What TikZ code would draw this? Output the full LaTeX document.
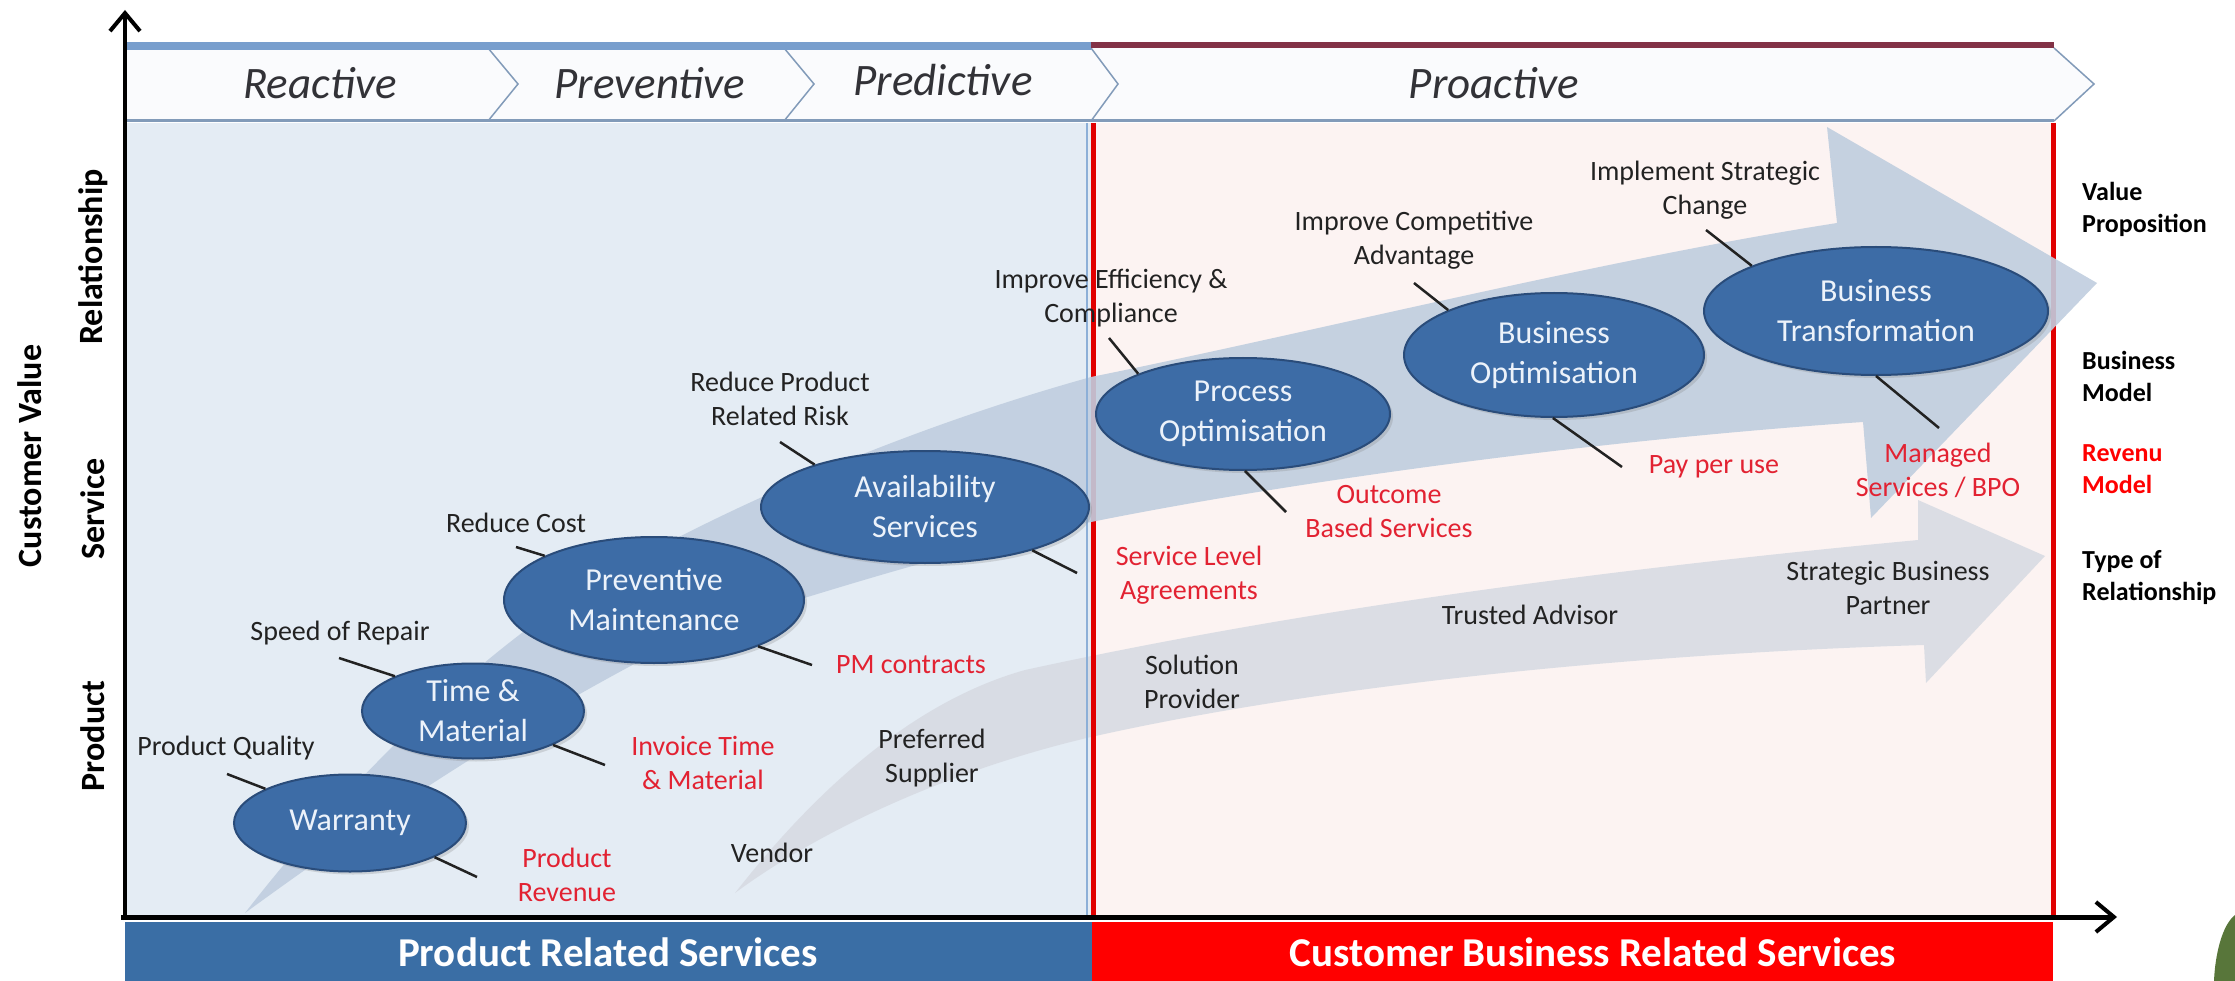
\documentclass[tikz,border=0pt]{standalone}
\usepackage{fontspec}
\setmainfont{Carlito}
\usetikzlibrary{arrows.meta,shapes.geometric,shadows}

\definecolor{panelblue}{RGB}{228,236,244}
\definecolor{panelpink}{RGB}{252,243,242}
\definecolor{bandblue}{RGB}{192,206,223}
\definecolor{bandgray}{RGB}{214,218,226}
\definecolor{ellfill}{RGB}{61,108,166}
\definecolor{elldraw}{RGB}{42,76,122}
\definecolor{elltext}{RGB}{236,242,250}
\definecolor{lblred}{RGB}{226,34,50}
\definecolor{lbldark}{RGB}{34,34,34}
\definecolor{barblue}{RGB}{58,110,165}
\definecolor{barred}{RGB}{255,0,0}
\definecolor{divred}{RGB}{225,0,0}
\definecolor{topmaroon}{RGB}{130,50,70}
\definecolor{bannerblue}{RGB}{120,158,205}
\definecolor{bannerfill}{RGB}{250,251,253}
\definecolor{chev}{RGB}{130,155,185}
\definecolor{thinblue}{RGB}{140,175,215}
\definecolor{phasegray}{RGB}{50,50,55}
\definecolor{leaf}{RGB}{88,118,58}

\begin{document}
\begin{tikzpicture}[x=1pt,y=-1pt,
  stage/.style={ellipse, fill=ellfill, draw=elldraw, line width=2pt, text=elltext,
    inner sep=0pt, align=center, font=\fontsize{32}{40}\selectfont,
    drop shadow={opacity=0.25, shadow xshift=3pt, shadow yshift=-3pt}},
  lbl/.style={text=lbldark, align=center, inner sep=0pt, font=\fontsize{28}{34}\selectfont},
  rlbl/.style={lbl, text=lblred},
  link/.style={draw=lbldark, line width=2.5pt},
  side/.style={align=left, anchor=west, inner sep=0pt, font=\fontsize{26}{32}\selectfont\bfseries},
  phase/.style={inner sep=0pt, text=phasegray, font=\fontsize{45}{50}\selectfont\itshape},
  vlabel/.style={rotate=90, inner sep=0pt, text=black, font=\fontsize{34}{40}\selectfont\bfseries},
  barlbl/.style={text=white, inner sep=0pt, font=\fontsize{41}{48}\selectfont\bfseries},
  axisline/.style={line width=4pt, -{Straight Barb[length=18pt,width=30pt,line width=4pt]}},
  chevline/.style={draw=chev, line width=1.5pt},
]
\useasboundingbox (0,0) rectangle (2235,981);
\fill[white] (0,0) rectangle (2235,981);

% panels
\fill[panelblue] (125,123) rectangle (1091,917);
\fill[panelpink] (1091,123) rectangle (2053,917);

% banner
\fill[bannerfill] (125,48) -- (2054,48) -- (2094,84) -- (2054,121) -- (125,121) -- cycle;
\draw[chevline] (488,48) -- (518,84) -- (488,121);
\draw[chevline] (784,48) -- (814,84) -- (784,121);
\draw[chevline] (1091,48) -- (1118,84) -- (1091,121);
\draw[chevline] (2054,48) -- (2094,84) -- (2054,121);
\draw[draw=chev, line width=3pt] (125,121) -- (2054,121);
\fill[bannerblue] (125,42) rectangle (1091,50);
\fill[topmaroon] (1091,42) rectangle (2054,48);

\node[phase] (reactive) at (320,83) {Reactive};
\node[phase] (preventive) at (650,83) {Preventive};
\node[phase] (predictive) at (943,80) {Predictive};
\node[phase] (proactive) at (1494,83) {Proactive};

% second (relationship) arrow
\fill[bandgray, opacity=0.85]
  (735,893) .. controls (800,810) and (900,705) .. (1025,670)
  .. controls (1300,610) and (1600,570) .. (1918,540)
  -- (1918,500) -- (2045,556) -- (1926,683) -- (1924,645)
  .. controls (1600,655) and (1300,690) .. (1091,737)
  .. controls (950,770) and (820,830) .. (735,893) -- cycle;

% red dividers
\draw[divred, line width=5pt] (1093,123) -- (1093,917);
\draw[divred, line width=5pt] (2053,123) -- (2053,917);

% main arrow
\fill[bandblue, opacity=0.9]
  (245,913) .. controls (340,790) and (480,650) .. (600,580)
  .. controls (720,510) and (900,430) .. (1091,377)
  .. controls (1300,335) and (1600,260) .. (1837,223)
  -- (1827,127) -- (2097,283) -- (1871,518) -- (1863,422)
  .. controls (1600,440) and (1300,480) .. (1091,522)
  .. controls (950,550) and (800,600) .. (700,630)
  .. controls (540,710) and (400,800) .. (245,913) -- cycle;

\draw[thinblue, line width=2pt] (1087,123) -- (1087,917);

% axes
\coordinate (origin) at (125,920);
\coordinate (ytip) at (125,10);
\coordinate (xstart) at (121,917);
\coordinate (xtip) at (2117,917);
\draw[axisline] (origin) -- (ytip);
\draw[axisline, line width=5pt] (xstart) -- (xtip);

% bottom bars
\fill[barblue] (125,922) rectangle (1092,981);
\fill[barred] (1092,922) rectangle (2053,981);
\node[barlbl] (prs) at (608,952) {Product Related Services};
\node[barlbl] (cbrs) at (1593,952) {Customer Business Related Services};

% vertical labels
\node[vlabel] (cv) at (30,456) {Customer Value};
\node[vlabel] (rel) at (93,257) {Relationship};
\node[vlabel] (svc) at (93,509) {Service};
\node[vlabel] (prd) at (93,736) {Product};

% right labels
\node[side] (vp) at (2082,209) {Value\\Proposition};
\node[side] (bm) at (2082,376) {Business\\Model};
\node[side, text=red] (rm) at (2082,469) {Revenu\\Model};
\node[side] (tr) at (2082,578) {Type of\\Relationship};

% stages
\node[stage, minimum width=232pt, minimum height=97pt] (warranty) at (350,823) {Warranty};
\node[stage, minimum width=222pt, minimum height=95pt] (tm) at (473,711) {Time \&\\Material};
\node[stage, minimum width=300pt, minimum height=126pt] (pm) at (654,600) {Preventive\\Maintenance};
\node[stage, minimum width=328pt, minimum height=112pt] (avail) at (925,507) {Availability\\Services};
\node[stage, minimum width=294pt, minimum height=112pt] (proc) at (1243,414) {Process\\Optimisation};
\node[stage, minimum width=300pt, minimum height=124pt] (busopt) at (1554,355) {Business\\Optimisation};
\node[stage, minimum width=344pt, minimum height=128pt] (bustr) at (1876,311) {Business\\Transformation};

% value labels
\node[lbl] (pq) at (226,748) {Product Quality};
\node[lbl] (sor) at (340,633) {Speed of Repair};
\node[lbl] (rc) at (516,523) {Reduce Cost};
\node[lbl] (rpr) at (780,399) {Reduce Product\\Related Risk};
\node[lbl] (iec) at (1111,298) {Improve Efficiency \&\\Compliance};
\node[lbl] (ica) at (1414,240) {Improve Competitive\\Advantage};
\node[lbl] (isc) at (1705,190) {Implement Strategic\\Change};

% revenue labels
\node[rlbl] (prev) at (567,875) {Product\\Revenue};
\node[rlbl] (itm) at (703,763) {Invoice Time\\\& Material};
\node[rlbl] (pmc) at (911,665) {PM contracts};
\node[rlbl] (sla) at (1189,575) {Service Level\\Agreements};
\node[rlbl] (obs) at (1389,512) {Outcome\\Based Services};
\node[rlbl] (ppu) at (1714,467) {Pay per use};
\node[rlbl] (msb) at (1938,470) {Managed\\Services / BPO};

% relationship labels
\node[lbl] (vendor) at (772,853) {Vendor};
\node[lbl] (ps) at (932,758) {Preferred\\Supplier};
\node[lbl] (sp) at (1192,682) {Solution\\Provider};
\node[lbl] (ta) at (1530,615) {Trusted Advisor};
\node[lbl] (sbp) at (1888,588) {Strategic Business\\Partner};

% connectors
\coordinate (pqA) at (227,774);
\coordinate (prA) at (477,877);
\coordinate (sorA) at (339,658);
\coordinate (itmA) at (605,765);
\coordinate (rcA) at (516,547);
\coordinate (pmcA) at (812,665);
\coordinate (rprA) at (780,442);
\coordinate (slaA) at (1077,573);
\coordinate (iecA) at (1109,338);
\coordinate (obsA) at (1286,512);
\coordinate (icaA) at (1414,283);
\coordinate (ppuA) at (1622,467);
\coordinate (iscA) at (1706,230);
\coordinate (msbA) at (1939,428);
\draw[link] (pqA) -- (warranty.158);
\draw[link] (warranty.338) -- (prA);
\draw[link] (sorA) -- (tm.156);
\draw[link] (tm.337) -- (itmA);
\draw[link] (rcA) -- (pm.158);
\draw[link] (pm.336) -- (pmcA);
\draw[link] (rprA) -- (avail.159);
\draw[link] (avail.338) -- (slaA);
\draw[link] (iecA) -- (proc.159);
\draw[link] (proc.272) -- (obsA);
\draw[link] (icaA) -- (busopt.157);
\draw[link] (busopt.269) -- (ppuA);
\draw[link] (iscA) -- (bustr.160);
\draw[link] (bustr.270) -- (msbA);

% corner leaf
\fill[leaf] (2235,915) .. controls (2222,925) and (2215,955) .. (2214,981) -- (2235,981) -- cycle;
\end{tikzpicture}
\end{document}
